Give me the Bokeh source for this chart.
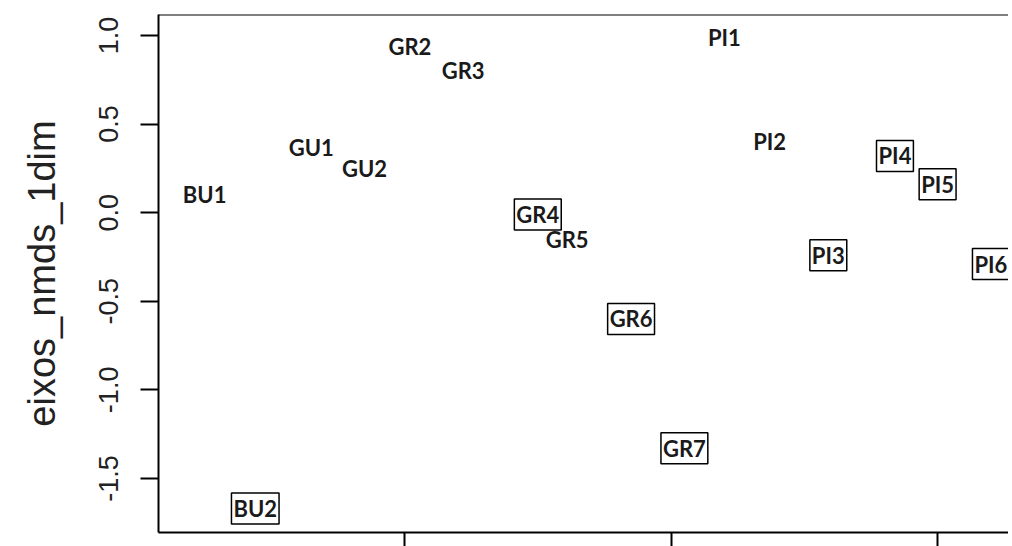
from bokeh.plotting import figure
from bokeh.models import (Range1d, FixedTicker, PrintfTickFormatter, Span, ColumnDataSource,
                          CustomJSTickFormatter)
from bokeh.core.properties import value
from bokeh.embed import file_html
from bokeh.resources import INLINE

# data
plain_labels = ["BU1", "GU1", "GU2", "GR2", "GR3", "GR5", "PI1", "PI2"]
plain_x = [-1.75, -1.35, -1.15, -0.98, -0.78, -0.39, 0.20, 0.37]
plain_y = [0.10, 0.37, 0.25, 0.94, 0.80, -0.15, 0.99, 0.40]

boxed_labels = ["BU2", "GR4", "GR6", "GR7", "PI3", "PI4", "PI5", "PI6"]
boxed_x = [-1.56, -0.50, -0.15, 0.05, 0.59, 0.84, 1.00, 1.20]
boxed_y = [-1.67, -0.01, -0.60, -1.33, -0.24, 0.32, 0.16, -0.29]

y_ticks = [-1.5, -1.0, -0.5, 0.0, 0.5, 1.0]
x_ticks = [-1.0, 0.0, 1.0]
y_label = "eixos_nmds_1dim"

x_start, x_end = -1.923, 1.266
y_start, y_end = -1.805, 1.1185

p = figure(width=1008, height=546, output_backend="svg", toolbar_location=None,
           x_range=Range1d(x_start, x_end), y_range=Range1d(y_start, y_end),
           min_border_left=158, min_border_top=14, min_border_right=0, min_border_bottom=0)
p.grid.visible = False
p.outline_line_color = None
p.background_fill_color = "white"
p.border_fill_color = "white"

# left axis
ya = p.yaxis[0]
ya.ticker = FixedTicker(ticks=y_ticks)
ya.formatter = PrintfTickFormatter(format="%.1f")
ya.major_label_orientation = "vertical"
ya.major_label_text_font = "Liberation Sans"
ya.major_label_text_font_size = "27px"
ya.major_label_text_color = "#222222"
ya.major_label_standoff = 22
ya.major_tick_out = 18
ya.major_tick_in = 0
ya.minor_tick_line_color = None
ya.axis_line_width = 2
ya.major_tick_line_width = 2
ya.axis_label = y_label
ya.axis_label_text_font = "Liberation Sans"
ya.axis_label_text_font_style = "normal"
ya.axis_label_text_font_size = "38px"
ya.axis_label_text_color = "#222222"
ya.axis_label_standoff = 34

# bottom axis (its labels fall outside the picture)
xa = p.xaxis[0]
xa.ticker = FixedTicker(ticks=x_ticks)
xa.formatter = CustomJSTickFormatter(code="return ''")
xa.major_label_standoff = 0
xa.major_tick_out = 14
xa.major_tick_in = 0
xa.minor_tick_line_color = None
xa.axis_line_width = 2
xa.major_tick_line_width = 2

# top frame line
p.add_layout(Span(location=y_end, dimension="width", line_color="black", line_width=2))

plain_src = ColumnDataSource(dict(x=plain_x, y=plain_y, t=plain_labels))
boxed_src = ColumnDataSource(dict(x=boxed_x, y=boxed_y, t=boxed_labels))

p.text(x="x", y="y", text="t", source=plain_src, text_align="center", text_baseline="middle",
       text_font=value("Lato"), text_font_style="bold", text_font_size="22px", text_color="#1a1a1a")
p.text(x="x", y="y", text="t", source=boxed_src, text_align="center", text_baseline="middle",
       text_font=value("Lato"), text_font_style="bold", text_font_size="22px", text_color="#1a1a1a",
       border_line_color="black", border_line_width=1.5, padding=2)

open("out.html", "w").write(file_html(p, INLINE))
